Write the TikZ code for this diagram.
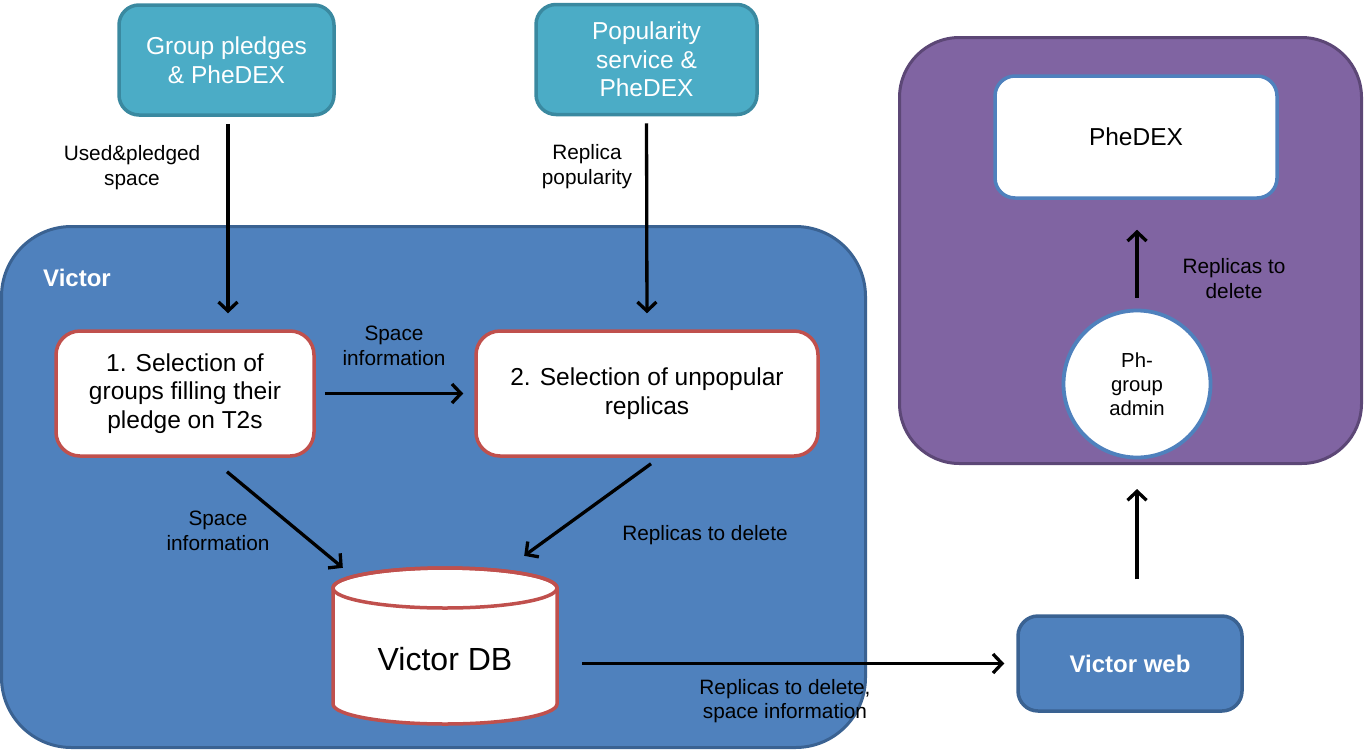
\documentclass[tikz,border=0pt]{standalone}
\usepackage{fontspec}
\setmainfont{Liberation Sans}
\usetikzlibrary{arrows.meta,calc}
\definecolor{tealfill}{HTML}{4BACC6}
\definecolor{tealdraw}{HTML}{3A89A0}
\definecolor{bluefill}{HTML}{4F81BD}
\definecolor{bluedraw}{HTML}{3A6292}
\definecolor{redline}{HTML}{C0504D}
\definecolor{purplefill}{HTML}{8064A2}
\definecolor{purpledraw}{HTML}{5C4776}
\begin{document}
\begin{tikzpicture}[x=1pt,y=-1pt,
  srcbox/.style={rectangle,rounded corners=20pt,fill=tealfill,draw=tealdraw,line width=3.5pt,
    text=white,align=center,font=\fontsize{24.5}{28.5}\selectfont,inner sep=0pt},
  stepbox/.style={rectangle,rounded corners=24pt,fill=white,draw=redline,line width=3.5pt,
    text=black,align=center,font=\fontsize{24.5}{28.5}\selectfont,inner sep=0pt},
  lbl/.style={align=center,font=\fontsize{20.8}{24.5}\selectfont,text=black,inner sep=0pt},
  arr/.style={line width=3.3pt,-{Straight Barb[length=9pt,width=19pt]}},
]
\useasboundingbox (0,0) rectangle (1364,750);

% containers
\node[rectangle,rounded corners=70pt,fill=bluefill,draw=bluedraw,line width=3pt,
  minimum width=864pt,minimum height=521pt,inner sep=0pt] (victor) at (433.5,487) {};
\node[anchor=west,text=white,font=\fontsize{24}{28}\selectfont\bfseries,inner sep=0pt] (victorlbl) at (43,278) {Victor};

\node[rectangle,rounded corners=60pt,fill=purplefill,draw=purpledraw,line width=3pt,
  minimum width=462pt,minimum height=426pt,inner sep=0pt] (purple) at (1130.5,250.5) {};

% source boxes
\node[srcbox,minimum width=215pt,minimum height=110pt] (gp) at (226.5,60) {Group pledges\\\& PheDEX};
\node[srcbox,minimum width=221pt,minimum height=110pt] (pop) at (646.5,59.5) {Popularity\\service \&\\PheDEX};

% steps
\node[stepbox,minimum width=258pt,minimum height=125pt] (b1) at (185,393.5) {1. Selection of\\groups filling their\\pledge on T2s};
\node[stepbox,minimum width=342pt,minimum height=125pt] (b2) at (647,393.5) {2. Selection of unpopular\\replicas};

% database
\node[inner sep=0pt,minimum width=224pt,minimum height=156pt] (db) at (445,646) {};
\path[fill=white,draw=redline,line width=3.5pt]
  (333,588) -- (333,704) arc[start angle=180,end angle=0,x radius=112,y radius=20]
  -- (557,588) arc[start angle=0,end angle=-180,x radius=112,y radius=20] -- cycle;
\draw[draw=redline,line width=3.5pt] (445,588) ellipse[x radius=112,y radius=20];
\node[font=\fontsize{32}{36}\selectfont,inner sep=0pt] (dblbl) at (445,659) {Victor DB};

% victor web
\node[rectangle,rounded corners=20pt,fill=bluefill,draw=bluedraw,line width=3.5pt,
  minimum width=224pt,minimum height=95pt,inner sep=0pt,text=white,
  font=\fontsize{24}{28}\selectfont\bfseries] (web) at (1130,663.5) {Victor web};

% PheDEX and admin
\node[rectangle,rounded corners=20pt,fill=white,draw=bluefill,line width=3.5pt,
  minimum width=282pt,minimum height=122pt,inner sep=0pt,
  font=\fontsize{24.5}{28}\selectfont] (phedex) at (1136,137) {PheDEX};
\node[circle,fill=white,draw=bluefill,line width=3.8pt,minimum size=147pt,inner sep=0pt,
  align=center,font=\fontsize{20.3}{24}\selectfont] (admin) at (1137,384) {Ph-\\group\\admin};

% arrows
\draw[arr,shorten <=7pt,shorten >=16pt] (gp.south -| 228,0) -- (b1.north -| 228,0);
\draw[arr,shorten <=7pt,shorten >=16pt] (pop.south) -- (b2.north);
\draw[arr,shorten <=9pt,shorten >=11pt] (b1.east) -- (b2.west);
\draw[arr] ($(b1.south)+(42,14)$) -- ($(db.north west)+(10,0)$);
\draw[arr] ($(b2.south)+(4,6)$) -- ($(db.north east)+(-33,-12)$);
\draw[arr,shorten <=25pt,shorten >=12pt] (db.east |- web.west) -- (web.west);
\draw[arr,shorten <=35pt,shorten >=24pt] (web.north -| admin.center) -- (purple.south -| admin.center);
\draw[arr,shorten <=11pt,shorten >=30pt] (admin.north) -- (phedex.south -| admin.center);

% labels
\node[lbl] (l1) at (132,167.5) {Used\&pledged\\space};
\node[lbl] (l2) at (587,166.5) {Replica\\popularity};
\node[lbl] (l3) at (394,346) {Space\\information};
\node[lbl] (l4) at (218,531) {Space\\information};
\node[lbl] (l5) at (705,535) {Replicas to delete};
\node[lbl] (l6) at (785,701) {Replicas to delete,\\space information};
\node[lbl] (l7) at (1234,278.5) {Replicas to\\delete};
\end{tikzpicture}
\end{document}
